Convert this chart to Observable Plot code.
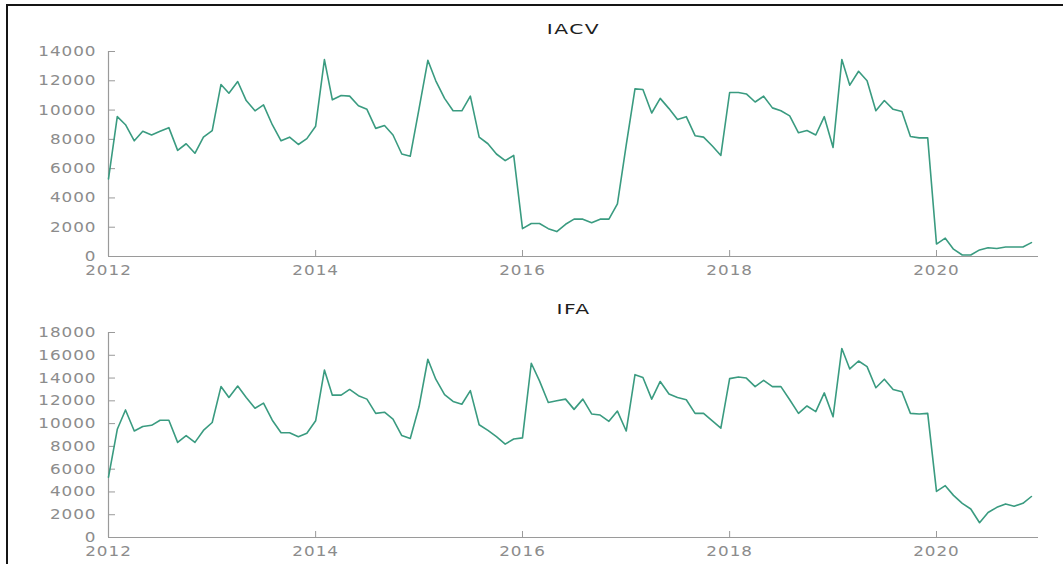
<!DOCTYPE html>
<html>
<head>
<meta charset="utf-8">
<script src="https://cdn.jsdelivr.net/npm/d3@7"></script>
<script src="https://cdn.jsdelivr.net/npm/@observablehq/plot@0.6"></script>
<style>
  body { margin: 0; background: #fff; }
  #page { position: relative; width: 1063px; height: 564px; overflow: hidden; background: #fff; }
  #frame { position: absolute; left: 6px; top: 4px; right: -10px; bottom: -10px;
           border-top: 2px solid #151515; border-left: 2px solid #151515; }
  .panel { position: absolute; left: 0; }
</style>
</head>
<body>
<div id="page">
  <div id="frame"></div>
  <div class="panel" id="p1" style="top:0px"></div>
  <div class="panel" id="p2" style="top:280px"></div>
</div>
<script>
// Monthly series, January 2012 through December 2020
const firstMonth = new Date(Date.UTC(2012, 0, 1));
const axisEnd = new Date(Date.UTC(2020, 11, 26));

const iacv = [
  5300, 9550, 9000, 7900, 8550, 8300, 8550, 8800, 7250, 7700, 7050, 8150,
  8600, 11750, 11150, 11950, 10650, 9950, 10350, 9000, 7900, 8150, 7650, 8050,
  8900, 13450, 10700, 11000, 10950, 10300, 10050, 8750, 8950, 8300, 7000, 6850,
  10100, 13400, 12000, 10800, 9950, 9950, 10950, 8150, 7700, 7000, 6550, 6900,
  1900, 2250, 2250, 1900, 1700, 2200, 2550, 2550, 2300, 2550, 2550, 3600,
  7600, 11450, 11400, 9800, 10800, 10100, 9350, 9550, 8250, 8150, 7550, 6900,
  11200, 11200, 11100, 10550, 10950, 10150, 9950, 9600, 8450, 8600, 8300, 9550,
  7450, 13450, 11700, 12650, 12000, 9950, 10650, 10050, 9900, 8200, 8100, 8100,
  850, 1250, 500, 100, 100, 450, 600, 550, 650, 650, 650, 950
];

const ifa = [
  5300, 9500, 11200, 9350, 9750, 9850, 10300, 10300, 8350, 8950, 8350, 9400,
  10100, 13250, 12300, 13300, 12300, 11350, 11800, 10300, 9200, 9200, 8850, 9150,
  10250, 14700, 12500, 12500, 13000, 12450, 12150, 10900, 11000, 10400, 8950, 8700,
  11500, 15650, 13900, 12550, 11950, 11700, 12900, 9900, 9400, 8850, 8200, 8650,
  8750, 15300, 13750, 11850, 12000, 12150, 11250, 12150, 10850, 10750, 10200, 11100,
  9350, 14300, 14050, 12150, 13700, 12600, 12300, 12100, 10900, 10900, 10250, 9600,
  13950, 14100, 14000, 13250, 13800, 13250, 13250, 12100, 10900, 11550, 11050, 12700,
  10600, 16600, 14800, 15500, 15000, 13150, 13900, 13000, 12800, 10900, 10850, 10900,
  4050, 4550, 3700, 3000, 2500, 1300, 2200, 2650, 2950, 2750, 3000, 3600
];

const yearTicks = [2012, 2014, 2016, 2018, 2020];
const iacvTicks = [0, 2000, 4000, 6000, 8000, 10000, 12000, 14000];
const ifaTicks = [0, 2000, 4000, 6000, 8000, 10000, 12000, 14000, 16000, 18000];

const months = d3.utcMonth.every(1).range(firstMonth, new Date(Date.UTC(2021, 0, 1)));
const yearDates = yearTicks.map(y => new Date(Date.UTC(y, 0, 1)));

const lineColor = "#3a9b80";
const axisColor = "#9a9a9a";

// Stretch a text horizontally about its own anchor point
function widen(node, sx, spacing) {
  const t = node.getAttribute("transform") || "";
  const xAttr = node.getAttribute("x");
  let shift = "";
  if (xAttr !== null && /^-?[\d.]+$/.test(xAttr)) {
    shift = ` translate(${xAttr},0)`;
    node.removeAttribute("x");
  }
  node.setAttribute("transform", `${t}${shift} scale(${sx},1)`);
  node.style.letterSpacing = spacing + "px";
}

function panel(title, values, yTicks, height, marginTop, marginBottom, titleY) {
  const rows = values.map((v, i) => ({date: months[i], value: v}));
  const svg = Plot.plot({
    width: 1063,
    height,
    marginLeft: 108,
    marginRight: 25,
    marginTop,
    marginBottom,
    style: {fontFamily: "'DejaVu Sans', Verdana, sans-serif", fontSize: "14px", color: "#8c8c8c", background: "transparent", overflow: "visible"},
    x: {type: "utc", domain: [firstMonth, axisEnd]},
    y: {domain: [0, yTicks[yTicks.length - 1]]},
    marks: [
      Plot.ruleY([0], {stroke: axisColor, strokeWidth: 1.2}),
      Plot.ruleX([firstMonth], {stroke: axisColor, strokeWidth: 1.2}),
      Plot.axisX({ticks: yearDates, tickFormat: d3.utcFormat("%Y"), tickSize: -6, tickPadding: 15, stroke: axisColor, fill: "#8c8c8c", label: null}),
      Plot.axisY({ticks: yTicks, tickFormat: d3.format("d"), tickSize: -7, tickPadding: 19, stroke: axisColor, fill: "#8c8c8c", label: null}),
      Plot.lineY(rows, {x: "date", y: "value", stroke: lineColor, strokeWidth: 1.6}),
      Plot.text([title], {frameAnchor: "top", dy: titleY - marginTop, dx: 0, lineAnchor: "middle", fill: "#1e1e1e", fontSize: 14})
    ]
  });
  d3.select(svg).selectAll("text").each(function () {
    if (this.textContent === title) widen(this, 1.45, 1);
    else widen(this, 1.2, 0.8);
  });
  return svg;
}

document.getElementById("p1").append(panel("IACV", iacv, iacvTicks, 280, 51, 24, 29));
document.getElementById("p2").append(panel("IFA", ifa, ifaTicks, 284, 52, 27, 29));
</script>
</body>
</html>
